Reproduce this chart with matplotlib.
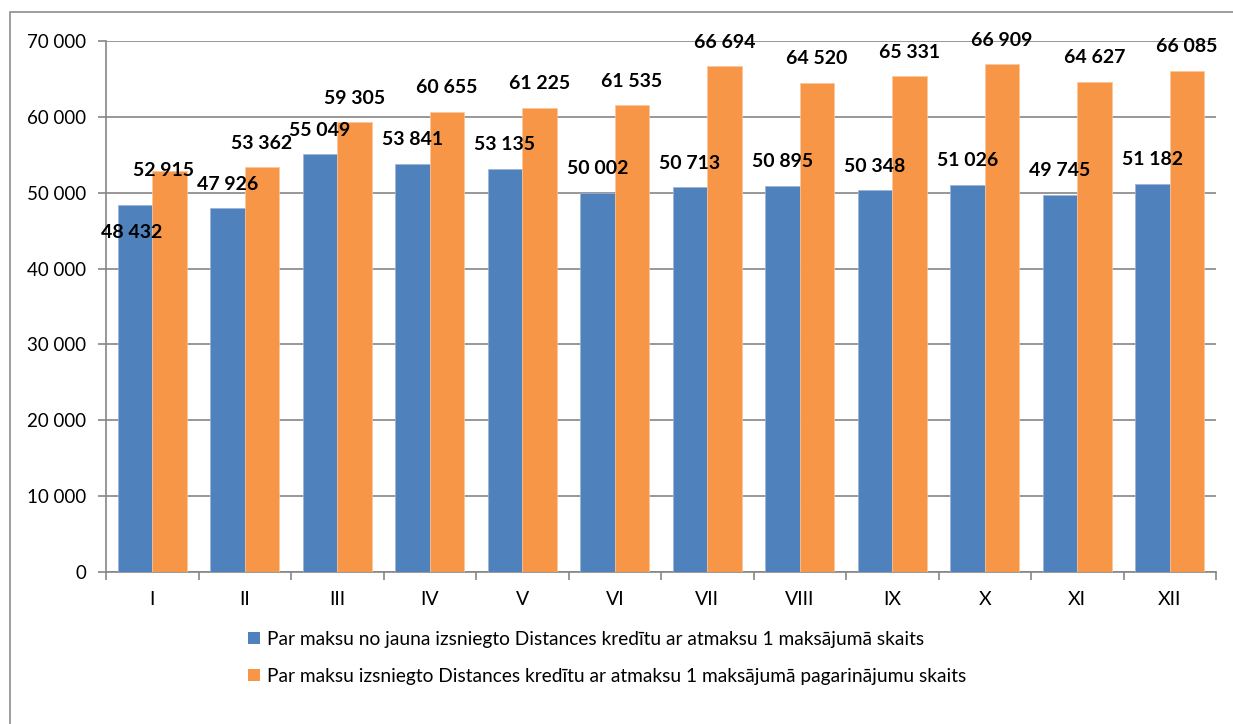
import numpy as np
import matplotlib
matplotlib.use('Agg')
from matplotlib import pyplot as plt
from matplotlib.patches import Rectangle, Patch

plt.rcParams['font.family'] = ['Lato', 'DejaVu Sans']

months = ['I', 'II', 'III', 'IV', 'V', 'VI', 'VII', 'VIII', 'IX', 'X', 'XI', 'XII']
new_loans = [48432, 47926, 55049, 53841, 53135, 50002, 50713, 50895, 50348, 51026, 49745, 51182]
extensions = [52915, 53362, 59305, 60655, 61225, 61535, 66694, 64520, 65331, 66909, 64627, 66085]

name_new = 'Par maksu no jauna izsniegto Distances kredītu ar atmaksu 1 maksājumā skaits'
name_ext = 'Par maksu izsniegto Distances kredītu ar atmaksu 1 maksājumā pagarinājumu skaits'

blue = '#4F81BD'
orange = '#F79646'
grid_c = '#868686'

fig = plt.figure(figsize=(12.33, 7.24), dpi=100)
# outer chart frame (clipped on the right and bottom like the screenshot)
fig.patches.append(Rectangle((10/1233, -0.05), 1.1, 1.05 - 12/724, transform=fig.transFigure,
                             fill=False, edgecolor='#8c8c8c', linewidth=1.2))

ax = fig.add_axes([106/1233, 1 - 572/724, 1110/1233, 531/724])
x = np.arange(len(months))
w = 0.373
b1 = ax.bar(x - w/2, new_loans, w, color=blue, edgecolor='#9bb3d6', linewidth=0.5, zorder=3)
b2 = ax.bar(x + w/2, extensions, w, color=orange, edgecolor='#fbc59a', linewidth=0.5, zorder=3)

# data labels, nudged (pixels) where Excel put them elsewhere
px = 0.72
nudge_new = {0: (-3, -52)}
nudge_ext = {0: (-6, -24)}
for bars, vals, nudge in ((b1, new_loans, nudge_new), (b2, extensions, nudge_ext)):
    for i, (r, v) in enumerate(zip(bars, vals)):
        dx, dy = nudge.get(i, (0, 0))
        ax.annotate(f'{v:,}'.replace(',', ' '), (r.get_x() + r.get_width()/2, v),
                    xytext=(dx*px, (24 + dy)*px), textcoords='offset points',
                    ha='center', va='center', fontsize=14, fontweight='bold',
                    color='black', zorder=5, annotation_clip=False)

ax.set_xlim(-0.5, len(months) - 0.5)
ax.set_ylim(0, 70000)
ax.set_yticks(np.arange(0, 70001, 10000))
ax.set_yticklabels([f'{v:,}'.replace(',', ' ') for v in range(0, 70001, 10000)])
ax.set_xticks(x)
ax.set_xticklabels(months)
ax.set_xticks(np.arange(-0.5, len(months)), minor=True)
ax.tick_params(axis='x', which='major', length=0, pad=14, labelsize=14)
ax.tick_params(axis='x', which='minor', length=6, width=1.2, color=grid_c, direction='out')
ax.tick_params(axis='y', length=6, width=1.2, color=grid_c, pad=8, labelsize=13.5)
ax.yaxis.grid(True, color=grid_c, linewidth=1.2, zorder=0)
ax.set_axisbelow(True)
for s in ('top', 'right'):
    ax.spines[s].set_visible(False)
for s in ('left', 'bottom'):
    ax.spines[s].set_color(grid_c)
    ax.spines[s].set_linewidth(1.2)

handles = [Patch(facecolor=blue, edgecolor='none'), Patch(facecolor=orange, edgecolor='none')]
fig.legend(handles, [name_new, name_ext], loc='upper left',
           bbox_to_anchor=(248/1233, 1 - 631/724), frameon=False, fontsize=13.8,
           handlelength=0.6, handleheight=0.6, handletextpad=0.4, labelspacing=1.05,
           borderaxespad=0, borderpad=0)

fig.savefig('out.png', dpi=100)
